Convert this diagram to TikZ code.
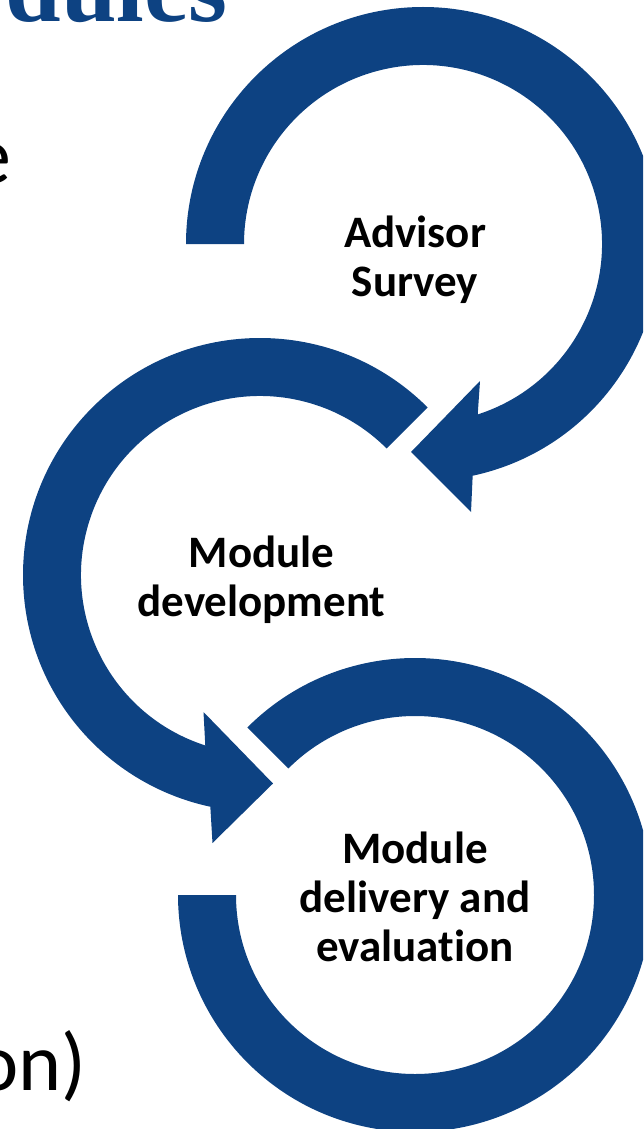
\documentclass[tikz,border=0pt]{standalone}
\usepackage{fontspec}
\setmainfont{Carlito}[Ligatures=NoCommon]
\newfontfamily\headfont{Liberation Serif}
\usetikzlibrary{calc}
\definecolor{ringblue}{RGB}{13,66,130}
\tikzset{
  ring/.style={fill=ringblue},
  steplabel/.style={align=center, inner sep=0pt, text=black,
    font=\bfseries\fontsize{45}{49}\selectfont},
  bodytext/.style={inner sep=0pt, text=black,
    font=\fontsize{82}{90}\selectfont},
}
\begin{document}
\begin{tikzpicture}[x=1pt,y=1pt]
\useasboundingbox (0,0) rectangle (643,-1129);
\clip (0,0) rectangle (643,-1129);

% ring centres
\coordinate (c1) at (423,-244);
\coordinate (c2) at (260,-575);
\coordinate (c3) at (415,-895);

% heading fragment and body text fragments
\node[anchor=base east, inner sep=0pt, text=ringblue,
      font=\headfont\bfseries\fontsize{100}{100}\selectfont] (heading) at (228,-22) {dules};
\node[bodytext, anchor=base east] (bodye) at (12,-183) {e};
\node[bodytext, anchor=base east] (bodyon) at (87,-1090) {on)};

% ring 1: from the left, clockwise, arrow head at the bottom
\fill[ring] ($(c1)+(180:237)$) arc[start angle=180,end angle=-77.9,radius=237]
  -- ($(c1)+(48,-268)$) -- ($(c1)+(-12,-208)$) -- ($(c1)+(57,-137)$)
  -- ($(c1)+(-72.2:179)$) arc[start angle=-72.2,end angle=180,radius=179] -- cycle;

% ring 2: from the upper right, anticlockwise, arrow head at the bottom
\fill[ring] ($(c2)+(45:237)$) arc[start angle=45,end angle=257.9,radius=237]
  -- ($(c2)+(-47.5,-268)$) -- ($(c2)+(13,-208.5)$) -- ($(c2)+(-56.5,-137)$)
  -- ($(c2)+(252.2:179)$) arc[start angle=252.2,end angle=45,radius=179] -- cycle;

% ring 3: from the upper left, clockwise, open at the left
\fill[ring] ($(c3)+(135:237)$) arc[start angle=135,end angle=-180,radius=237]
  -- ($(c3)+(180:179)$) arc[start angle=-180,end angle=135,radius=179] -- cycle;

% step labels
\node[steplabel] (survey) at (415,-259.5) {Advisor\\Survey};
\node[steplabel] (develop) at (261.5,-580) {Module\\development};
\node[steplabel] (deliver) at (415,-896.5) {Module\\delivery and\\evaluation};
\end{tikzpicture}
\end{document}
